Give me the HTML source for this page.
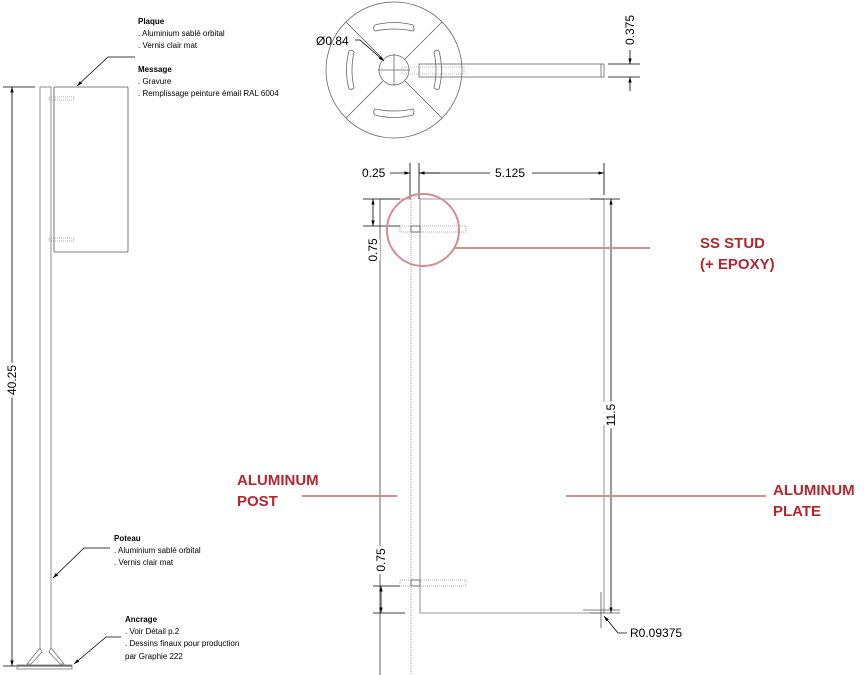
<!DOCTYPE html>
<html><head><meta charset="utf-8"><style>
body{margin:0;background:#fff}
svg{display:block;font-family:"Liberation Sans",sans-serif}
.t{font-size:8px;fill:#000}
.b{font-weight:bold}
.d{font-size:12px;fill:#000}
.w{stroke:#fff;stroke-width:6px;paint-order:stroke}
.r{font-size:15px;fill:#b5262e;font-weight:bold}
</style></head><body>
<svg width="867" height="675" viewBox="0 0 867 675" xmlns="http://www.w3.org/2000/svg">
<defs>
<marker id="a" viewBox="0 0 10 10" refX="10" refY="5" markerWidth="7" markerHeight="7" orient="auto-start-reverse"><path d="M0,2 L10,5 L0,8 z" fill="#000"/></marker>
</defs>
<g stroke="#000" fill="none" stroke-width="0.8">
<line x1="3" y1="87" x2="35" y2="87"/>
<line x1="12" y1="87" x2="12" y2="666" marker-start="url(#a)" marker-end="url(#a)"/>
<line x1="3" y1="666" x2="72" y2="666"/>
<g stroke="#777"><line x1="40" y1="87" x2="40" y2="648"/><line x1="51" y1="87" x2="51" y2="648"/><line x1="40" y1="87" x2="51" y2="87"/></g>
<rect x="54" y="87" width="74" height="165" rx="1" stroke="#555"/>
<g stroke="#999" stroke-dasharray="1,1"><rect x="49" y="97" width="25" height="3"/><rect x="49" y="238" width="25" height="3"/></g>
<polyline points="135,57 108,57 77,86" marker-end="url(#a)"/>
<polyline points="110,548 84,548 53,578" marker-end="url(#a)"/>
<polyline points="121,637 106,637 74,664" marker-end="url(#a)"/>
<g stroke="#777"><rect x="17" y="665" width="55" height="4"/>
<polygon points="40,648 27,664 31,664 42,652"/><polygon points="51,648 64,664 60,664 49,652"/></g>
<g stroke="#666">
<circle cx="394" cy="70" r="68"/>
<circle cx="394" cy="70" r="15"/>
<line x1="383" y1="59" x2="346" y2="22"/><line x1="405" y1="59" x2="442" y2="22"/>
<line x1="383" y1="81" x2="346" y2="118"/><line x1="405" y1="81" x2="442" y2="118"/>
<path d="M375,25 Q394,20 413,25 Q415,30 413,31 Q394,27 375,31 Q372,28 375,25z"/>
<path d="M375,115 Q394,120 413,115 Q415,110 413,109 Q394,113 375,109 Q372,112 375,115z"/>
<path d="M349,51 Q344,70 349,89 Q352,90 354,88 Q350,70 354,52 Q352,49 349,51z"/>
<path d="M439,51 Q444,70 439,89 Q436,90 434,88 Q438,70 434,52 Q436,49 439,51z"/>
<rect x="419" y="64" width="185" height="13"/>
<line x1="601" y1="64" x2="601" y2="77"/>
<line x1="378" y1="70" x2="410" y2="70"/><line x1="394" y1="54" x2="394" y2="86"/>
</g>
<g stroke="#aaa" stroke-dasharray="1,1"><rect x="402" y="67" width="62" height="7"/></g>
<polyline points="355,40 360,40 384,61" marker-end="url(#a)"/>
<line x1="608" y1="64" x2="640" y2="64"/><line x1="608" y1="77" x2="640" y2="77"/>
<line x1="630" y1="50" x2="630" y2="64" marker-end="url(#a)"/>
<line x1="630" y1="91" x2="630" y2="77" marker-end="url(#a)"/>
<line x1="380" y1="199" x2="380" y2="675" stroke="#999" stroke-width="1.5"/>
<line x1="411" y1="199" x2="411" y2="675" stroke="#999" stroke-dasharray="1,1"/>
<line x1="380" y1="199" x2="411" y2="199" stroke="#999"/>
<path d="M420,613 L420,199 L602,199 Q604,199 604,201 L604,613 Z" stroke="#777"/>
<line x1="410" y1="163" x2="410" y2="199"/><line x1="419" y1="163" x2="419" y2="199"/>
<line x1="390" y1="173" x2="410" y2="173" marker-end="url(#a)"/>
<line x1="440" y1="173" x2="419" y2="173" marker-end="url(#a)"/>
<line x1="419" y1="173" x2="490" y2="173"/>
<line x1="532" y1="173" x2="604" y2="173" marker-end="url(#a)"/>
<line x1="604" y1="163" x2="604" y2="195"/>
<line x1="590" y1="199" x2="620" y2="199"/>
<line x1="611" y1="199" x2="611" y2="613" marker-start="url(#a)" marker-end="url(#a)"/>
<line x1="363" y1="199" x2="400" y2="199"/><line x1="363" y1="226" x2="400" y2="226"/>
<line x1="373" y1="199" x2="373" y2="226" marker-start="url(#a)" marker-end="url(#a)"/>
<line x1="381" y1="586" x2="381" y2="613" marker-start="url(#a)" marker-end="url(#a)"/>
<line x1="373" y1="586" x2="400" y2="586"/><line x1="373" y1="613" x2="405" y2="613"/>
<g stroke="#999" stroke-dasharray="1,1"><rect x="400" y="226" width="66" height="6"/><rect x="400" y="580" width="66" height="6"/></g>
<rect x="411" y="226" width="9" height="6" stroke="#555"/><rect x="411" y="580" width="9" height="6" stroke="#555"/>
<line x1="583" y1="610" x2="620" y2="610" stroke="#555"/><line x1="590" y1="613" x2="620" y2="613" stroke="#555"/>
<line x1="601" y1="592" x2="601" y2="628" stroke="#555"/>
<polyline points="627,633 618,633 604,616" marker-end="url(#a)"/>
</g>
<g stroke="#d48d90" fill="none" stroke-width="2">
<circle cx="423" cy="230" r="36"/>
<line x1="455" y1="248" x2="650" y2="248"/>
<line x1="302" y1="496" x2="397" y2="496"/>
<line x1="566" y1="496" x2="766" y2="496"/>
</g>
<text class="t b" x="138" y="24">Plaque</text>
<text class="t" x="138" y="36">. Aluminium sablé orbital</text>
<text class="t" x="138" y="48">. Vernis clair mat</text>
<text class="t b" x="138" y="72">Message</text>
<text class="t" x="138" y="84">. Gravure</text>
<text class="t" x="138" y="96">. Remplissage peinture émail RAL 6004</text>
<text class="t b" x="114" y="541">Poteau</text>
<text class="t" x="114" y="553">. Aluminium sablé orbital</text>
<text class="t" x="114" y="565">. Vernis clair mat</text>
<text class="t b" x="125" y="622">Ancrage</text>
<text class="t" x="125" y="634">. Voir Détail p.2</text>
<text class="t" x="125" y="646">. Dessins finaux pour production</text>
<text class="t" x="125" y="659">par Graphie 222</text>
<text class="d w" transform="translate(16,380) rotate(-90)" text-anchor="middle">40.25</text>
<text class="d" x="316" y="45">Ø0.84</text>
<text class="d w" transform="translate(634,30) rotate(-90)" text-anchor="middle">0.375</text>
<text class="d" x="362" y="177">0.25</text>
<text class="d" x="495" y="177">5.125</text>
<text class="d w" transform="translate(377,250) rotate(-90)" text-anchor="middle">0.75</text>
<text class="d w" transform="translate(385,560) rotate(-90)" text-anchor="middle">0.75</text>
<text class="d w" transform="translate(615,415) rotate(-90)" text-anchor="middle">11.5</text>
<text class="d" x="630" y="637">R0.09375</text>
<text class="r" x="700" y="248">SS STUD</text>
<text class="r" x="700" y="269">(+ EPOXY)</text>
<text class="r" x="237" y="485">ALUMINUM</text>
<text class="r" x="237" y="506">POST</text>
<text class="r" x="773" y="495">ALUMINUM</text>
<text class="r" x="773" y="516">PLATE</text>
</svg>
</body></html>
